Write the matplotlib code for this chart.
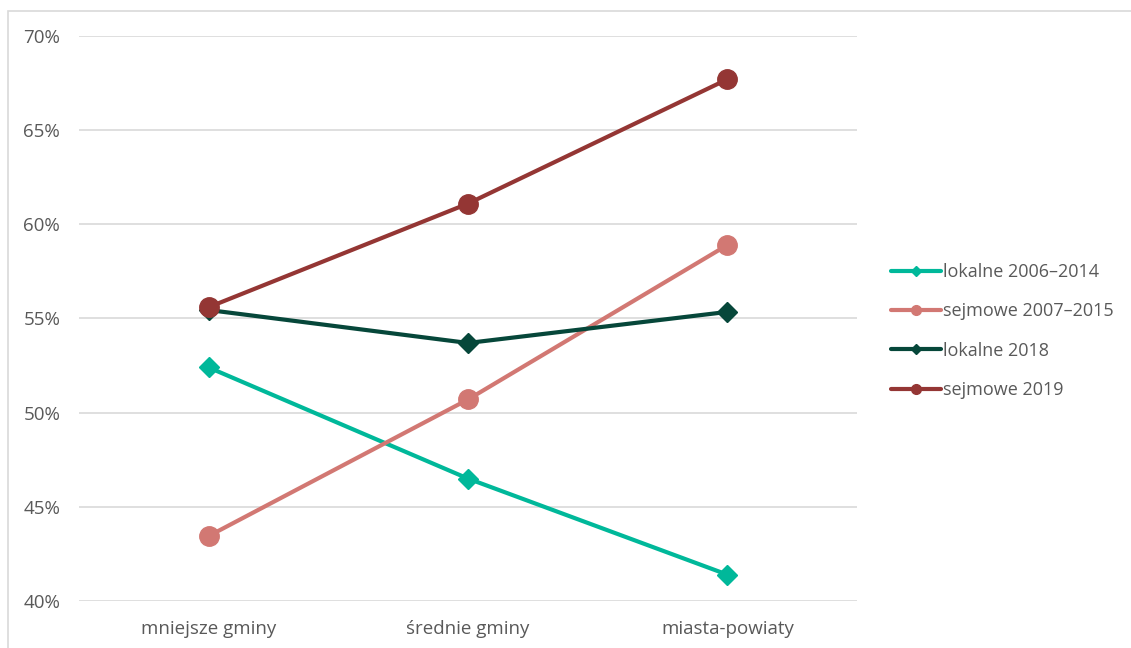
import matplotlib.pyplot as plt
from matplotlib.patches import Rectangle
from matplotlib.ticker import FuncFormatter

plt.rcParams['font.family'] = ['Open Sans', 'DejaVu Sans']

kategorie = ['mniejsze gminy', 'średnie gminy', 'miasta-powiaty']
lokalne_2006_2014 = [52.4, 46.5, 41.4]
sejmowe_2007_2015 = [43.45, 50.7, 58.9]
lokalne_2018 = [55.45, 53.7, 55.35]
sejmowe_2019 = [55.6, 61.1, 67.7]

serie = [
    ('lokalne 2006–2014', lokalne_2006_2014, '#00B89A', 'D', 10),
    ('sejmowe 2007–2015', sejmowe_2007_2015, '#D27873', 'o', 14),
    ('lokalne 2018', lokalne_2018, '#06473A', 'D', 10),
    ('sejmowe 2019', sejmowe_2019, '#943634', 'o', 14),
]

tekst = '#595959'

fig = plt.figure(figsize=(11.31, 6.48), dpi=100)
ax = fig.add_axes([0.0698, 0.0725, 0.688, 0.872])

# ramka wokół całego wykresu
fig.patches.append(Rectangle((8 / 1131, -0.1), 1.2, 1.1 - 11 / 648,
                             transform=fig.transFigure, fill=False,
                             edgecolor='#D9D9D9', linewidth=1.2))

x = range(len(kategorie))
for nazwa, wartosci, kolor, marker, ms in serie:
    ax.plot(x, wartosci, color=kolor, linewidth=3, marker=marker,
            markersize=ms, label=nazwa, solid_capstyle='round')

ax.set_xlim(-0.5, 2.5)
ax.set_ylim(40, 70)
ax.set_yticks(range(40, 71, 5))
ax.yaxis.set_major_formatter(FuncFormatter(lambda v, p: f'{v:.0f}%'))
ax.set_xticks(list(x))
ax.set_xticklabels(kategorie)
ax.grid(axis='y', color='#D9D9D9', linewidth=1.2)
ax.set_axisbelow(True)
for s in ax.spines.values():
    s.set_visible(False)
ax.tick_params(length=0, labelsize=13.5, colors=tekst, pad=13.5)
ax.tick_params(axis='x', pad=14)

leg = ax.legend(loc='center left', bbox_to_anchor=(1.023, 0.478), frameon=False,
                fontsize=13, labelcolor=tekst, markerscale=0.5,
                handlelength=2.75, handletextpad=0.1, labelspacing=1.18)

fig.savefig('out.png', dpi=100)
